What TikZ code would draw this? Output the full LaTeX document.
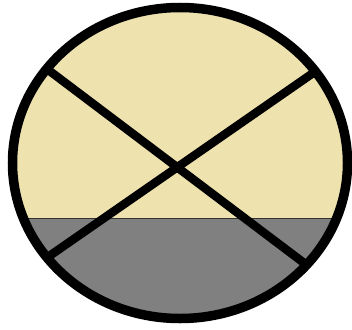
\documentclass[tikz,border=0pt]{standalone}
\definecolor{beige}{RGB}{238,226,175}
\definecolor{midgray}{RGB}{128,128,128}
\begin{document}
\begin{tikzpicture}[x=1pt,y=-1pt,
  rim/.style={line width=9.5pt,draw=black},
  cross/.style={line width=8.5pt,draw=black}]
\useasboundingbox (0,0) rectangle (352,329);
\coordinate (c) at (180,163);
\fill[beige] (c) ellipse [x radius=167.5, y radius=155.5];
\begin{scope}
  \clip (c) ellipse [x radius=167.5, y radius=155.5];
  \fill[midgray] (0,218) rectangle (352,329);
  \draw[line width=1pt,black!80] (0,218) -- (352,218);
  \coordinate (a1) at (47,69);
  \coordinate (a2) at (312,269);
  \coordinate (b1) at (316,71);
  \coordinate (b2) at (45,259);
  \draw[cross] (a1) -- (a2);
  \draw[cross] (b1) -- (b2);
\end{scope}
\draw[rim] (c) ellipse [x radius=167.5, y radius=155.5];
\end{tikzpicture}
\end{document}
